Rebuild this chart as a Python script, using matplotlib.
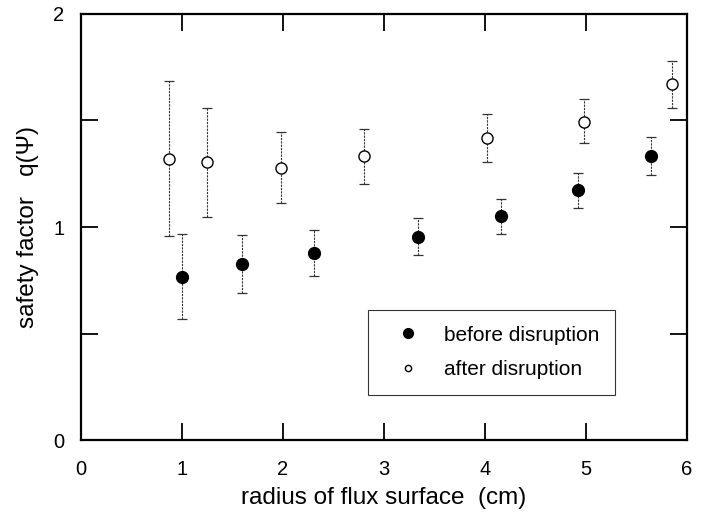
import matplotlib
matplotlib.use("Agg")
import numpy as np
import matplotlib.pyplot as plt
from matplotlib.lines import Line2D

plt.rcParams['font.family'] = ['Liberation Sans', 'DejaVu Sans']

# before disruption (filled)
r_before = [1.00, 1.60, 2.31, 3.34, 4.16, 4.92, 5.65]
q_before = [0.765, 0.826, 0.878, 0.953, 1.052, 1.174, 1.333]
q_before_hi = [0.967, 0.962, 0.986, 1.042, 1.131, 1.254, 1.423]
q_before_lo = [0.568, 0.690, 0.770, 0.868, 0.967, 1.089, 1.244]

# after disruption (open)
r_after = [0.875, 1.25, 1.98, 2.80, 4.02, 4.98, 5.85]
q_after = [1.320, 1.305, 1.277, 1.333, 1.418, 1.493, 1.671]
q_after_hi = [1.685, 1.560, 1.446, 1.460, 1.530, 1.600, 1.780]
q_after_lo = [0.958, 1.047, 1.113, 1.200, 1.305, 1.394, 1.559]

x_ticks = [0, 1, 2, 3, 4, 5, 6]
y_ticks = [0, 0.5, 1, 1.5, 2]
y_labels = ['0', '', '1', '', '2']


def err(mid, lo, hi):
    mid = np.array(mid)
    return [mid - np.array(lo), np.array(hi) - mid]


fig = plt.figure(figsize=(7.03, 5.16), dpi=100)
ax = fig.add_axes([0.115, 0.147, 0.862, 0.826])

eb_style = dict(fmt='none', ecolor='#333333', elinewidth=0.8, capsize=3.5,
                capthick=0.9)
e1 = ax.errorbar(r_before, q_before, yerr=err(q_before, q_before_lo, q_before_hi), **eb_style)
e2 = ax.errorbar(r_after, q_after, yerr=err(q_after, q_after_lo, q_after_hi), **eb_style)
for e in (e1, e2):
    e[2][0].set_linestyle((0, (2, 1)))

ax.plot(r_before, q_before, 'o', color='black', markersize=8.5, zorder=3)
ax.plot(r_after, q_after, 'o', markerfacecolor='white', markeredgecolor='black',
        markeredgewidth=1.0, markersize=8, zorder=3)

ax.set_xlim(0, 6)
ax.set_ylim(0, 2)
ax.set_xticks(x_ticks)
ax.set_yticks(y_ticks)
ax.set_yticklabels(y_labels)
ax.set_xticklabels([str(t) for t in x_ticks])
ax.tick_params(direction='in', length=12, width=1.3, labelsize=14.5,
               top=True, right=True)
ax.tick_params(axis='x', pad=14)
ax.tick_params(axis='y', pad=12)
for s in ax.spines.values():
    s.set_linewidth(1.6)

ax.set_xlabel('radius of flux surface  (cm)', fontsize=17.5, labelpad=6)
ax.set_ylabel('safety factor   q(\u03a8)', fontsize=17.5, labelpad=10)

handles = [
    Line2D([], [], marker='o', linestyle='none', color='black', markersize=7),
    Line2D([], [], marker='o', linestyle='none', markerfacecolor='white',
           markeredgecolor='black', markersize=4.5),
]
leg = ax.legend(handles, ['before disruption', 'after disruption'],
                loc='lower left', bbox_to_anchor=(0.4735, 0.106), fontsize=15,
                frameon=True, fancybox=False, edgecolor='black',
                borderpad=0.75, labelspacing=0.75, handletextpad=0.5,
                handlelength=2.4, borderaxespad=0)
leg.get_frame().set_linewidth(0.8)

fig.savefig('out.png', dpi=100)
